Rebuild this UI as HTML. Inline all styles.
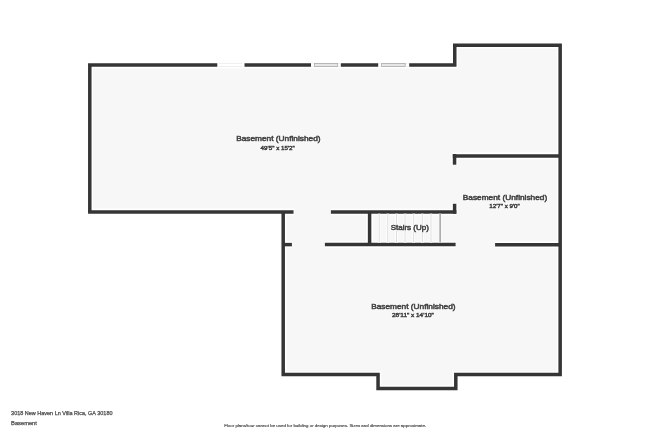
<!DOCTYPE html>
<html><head><meta charset="utf-8">
<style>
html,body{margin:0;padding:0;background:#ffffff;width:650px;height:434px;overflow:hidden;}
svg{position:absolute;left:0;top:0;will-change:transform;}
text{font-family:"Liberation Sans",sans-serif;fill:#4a4a4a;}
</style></head><body>
<svg width="650" height="434" viewBox="0 0 650 434">
<rect x="0" y="0" width="650" height="434" fill="#ffffff"/>
<!-- floor fill -->
<polygon fill="#f7f7f7" points="89.8,64.95 454.75,64.95 454.75,45.15 560.15,45.15 560.15,374.6 455.8,374.6 455.8,388.5 378.05,388.5 378.05,374.6 283.2,374.6 283.2,211.9 89.8,211.9"/>
<defs>
<g id="walls">
<path d="M89.8,211.9 V64.95 H454.75 V45.15 H560.15 V374.6 H455.8 V388.5 H378.05 V374.6 H283.2 V211.9"/>
<path d="M88.05,211.9 H293.5"/>
<path d="M454.55,154 V164.7"/>
<path d="M452.8,155.9 H560"/>
<path d="M454.6,203.8 V213.7"/>
<path d="M330.9,211.95 H456.35"/>
<path d="M369.6,211.95 V244.6"/>
<path d="M324.9,244.6 H455.6"/>
<path d="M283.2,244.6 H291.9"/>
<path d="M495.1,244.7 H560"/>
</g>
</defs>
<use href="#walls" fill="none" stroke="#ffffff" stroke-width="6.6" stroke-linecap="butt" stroke-linejoin="miter"/>
<use href="#walls" fill="none" stroke="#353535" stroke-width="3.5" stroke-linecap="butt" stroke-linejoin="miter"/>
<!-- windows -->
<rect x="217.3" y="62" width="27.2" height="6.2" fill="#ffffff"/>
<line x1="219" y1="63.4" x2="241.8" y2="63.4" stroke="#e2e2e2" stroke-width="0.6"/>
<line x1="219" y1="66.5" x2="241.8" y2="66.5" stroke="#e2e2e2" stroke-width="0.6"/>
<rect x="311" y="62" width="29.8" height="6.2" fill="#ffffff"/>
<line x1="311.5" y1="63.3" x2="340.3" y2="63.3" stroke="#e4e4e4" stroke-width="0.5"/>
<line x1="311.5" y1="66.6" x2="340.3" y2="66.6" stroke="#e4e4e4" stroke-width="0.5"/>
<rect x="314.5" y="63.4" width="23.2" height="3.1" fill="#e6e6e6" stroke="#ababab" stroke-width="0.8"/>
<rect x="378.2" y="62" width="31" height="6.2" fill="#ffffff"/>
<line x1="378.7" y1="63.3" x2="408.7" y2="63.3" stroke="#e4e4e4" stroke-width="0.5"/>
<line x1="378.7" y1="66.6" x2="408.7" y2="66.6" stroke="#e4e4e4" stroke-width="0.5"/>
<rect x="381.6" y="63.4" width="23.6" height="3.1" fill="#e6e6e6" stroke="#ababab" stroke-width="0.8"/>
<!-- stairs -->
<g stroke="#ffffff" stroke-width="2.6">
<line x1="379.2" y1="213.7" x2="379.2" y2="242.8"/>
<line x1="387.8" y1="213.7" x2="387.8" y2="242.8"/>
<line x1="396.5" y1="213.7" x2="396.5" y2="242.8"/>
<line x1="405.1" y1="213.7" x2="405.1" y2="242.8"/>
<line x1="413.7" y1="213.7" x2="413.7" y2="242.8"/>
<line x1="422.3" y1="213.7" x2="422.3" y2="242.8"/>
<line x1="431.0" y1="213.7" x2="431.0" y2="242.8"/>
<line x1="440.0" y1="213.7" x2="440.0" y2="242.8"/>
</g>
<g stroke="#d9d9d9" stroke-width="0.9">
<line x1="379.2" y1="213.7" x2="379.2" y2="242.8"/>
<line x1="387.8" y1="213.7" x2="387.8" y2="242.8"/>
<line x1="396.5" y1="213.7" x2="396.5" y2="242.8"/>
<line x1="405.1" y1="213.7" x2="405.1" y2="242.8"/>
<line x1="413.7" y1="213.7" x2="413.7" y2="242.8"/>
<line x1="422.3" y1="213.7" x2="422.3" y2="242.8"/>
<line x1="431.0" y1="213.7" x2="431.0" y2="242.8"/>
</g>
<line x1="440.1" y1="213.7" x2="440.1" y2="242.8" stroke="#8c8c8c" stroke-width="1.2"/>
<!-- labels -->
<g fill="#ffffff" stroke="#ffffff" stroke-width="2" stroke-linejoin="round" opacity="0.7" font-weight="normal">
<text x="236.2" y="141.3" font-size="7.1" textLength="84.4" lengthAdjust="spacingAndGlyphs">Basement (Unfinished)</text>
<text x="260.6" y="149.8" font-size="6" textLength="34.2" lengthAdjust="spacingAndGlyphs">49'5" x 15'2"</text>
<text x="462.8" y="199.6" font-size="7.1" textLength="84.4" lengthAdjust="spacingAndGlyphs">Basement (Unfinished)</text>
<text x="489.3" y="207.9" font-size="6" textLength="30.4" lengthAdjust="spacingAndGlyphs">12'7" x 9'0"</text>
<text x="371.2" y="308.5" font-size="7.1" textLength="84.4" lengthAdjust="spacingAndGlyphs">Basement (Unfinished)</text>
<text x="392" y="316.5" font-size="6" textLength="41.8" lengthAdjust="spacingAndGlyphs">28'11" x 14'10"</text>
<text x="390.7" y="230.4" font-size="7.1" textLength="38.2" lengthAdjust="spacingAndGlyphs">Stairs (Up)</text>
</g>
<g fill="#444444" stroke="#444444" stroke-width="0.5" font-weight="normal">
<text x="236.2" y="141.3" font-size="7.1" textLength="84.4" lengthAdjust="spacingAndGlyphs">Basement (Unfinished)</text>
<text x="260.6" y="149.8" font-size="6" textLength="34.2" lengthAdjust="spacingAndGlyphs">49'5" x 15'2"</text>
<text x="462.8" y="199.6" font-size="7.1" textLength="84.4" lengthAdjust="spacingAndGlyphs">Basement (Unfinished)</text>
<text x="489.3" y="207.9" font-size="6" textLength="30.4" lengthAdjust="spacingAndGlyphs">12'7" x 9'0"</text>
<text x="371.2" y="308.5" font-size="7.1" textLength="84.4" lengthAdjust="spacingAndGlyphs">Basement (Unfinished)</text>
<text x="392" y="316.5" font-size="6" textLength="41.8" lengthAdjust="spacingAndGlyphs">28'11" x 14'10"</text>
<text x="390.7" y="230.4" font-size="7.1" textLength="38.2" lengthAdjust="spacingAndGlyphs">Stairs (Up)</text>
</g>
<g fill="#4a4a4a" stroke="#4a4a4a" stroke-width="0.25" font-weight="normal">
<text x="11.1" y="414.9" font-size="5.6" textLength="101.4" lengthAdjust="spacingAndGlyphs">3018 New Haven Ln Villa Rica, GA 30180</text>
<text x="11.1" y="425.4" font-size="5.6" textLength="25.8" lengthAdjust="spacingAndGlyphs">Basement</text>
<text x="224.2" y="427" font-size="4" stroke-width="0.15" textLength="202" lengthAdjust="spacingAndGlyphs">Floor plans/tour cannot be used for building or design purposes. Sizes and dimensions are approximate.</text>
</g>
</svg>
</body></html>
